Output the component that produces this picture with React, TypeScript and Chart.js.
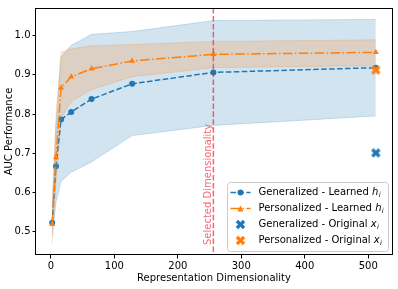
import { useEffect, useRef } from 'react';
import { Chart, registerables } from 'chart.js';

Chart.register(...registerables);

// ---- data ----
const dims = [2, 8, 16, 32, 64, 128, 256, 512];
const genMean = [0.523, 0.667, 0.786, 0.805, 0.838, 0.877, 0.906, 0.918];
const genUpper = [0.56, 0.77, 0.945, 0.975, 1.003, 1.01, 1.038, 1.041];
const genLower = [0.49, 0.575, 0.628, 0.652, 0.678, 0.745, 0.771, 0.795];
const perMean = [0.52, 0.69, 0.867, 0.895, 0.915, 0.935, 0.952, 0.957];
const perUpper = [0.57, 0.8, 0.957, 0.966, 0.974, 0.977, 0.985, 0.989];
const perLower = [0.47, 0.62, 0.79, 0.832, 0.862, 0.895, 0.918, 0.923];
const originalDim = [512];
const genOriginal = [0.701];
const perOriginal = [0.912];
const selectedDim = 256;
const xTicks = [0, 100, 200, 300, 400, 500];
const yTicks = [0.5, 0.6, 0.7, 0.8, 0.9, 1.0];
const xRange = [-23.5, 537.5];
const yRange = [0.441, 1.07];

const BLUE = '#1f77b4';
const ORANGE = '#ff7f0e';
const RED = 'rgba(238,40,55,0.7)';
const FONT = "'DejaVu Sans', sans-serif";
const BLUE_DASH = [5.55, 2.4];
const ORANGE_DASH = [9.6, 2.4, 1.5, 2.4];

function makeX(color: string, size: number): HTMLCanvasElement {
  const c = document.createElement('canvas');
  const dim = Math.ceil(size * 1.1) + 2;
  c.width = dim;
  c.height = dim;
  const ctx = c.getContext('2d')!;
  const pts = [
    [-1, -3], [1, -3], [1, -1], [3, -1], [3, 1], [1, 1],
    [1, 3], [-1, 3], [-1, 1], [-3, 1], [-3, -1], [-1, -1],
  ];
  const s = size / 6;
  const a = Math.PI / 4;
  ctx.translate(dim / 2, dim / 2);
  ctx.beginPath();
  pts.forEach(([px, py], i) => {
    const x = (px * Math.cos(a) - py * Math.sin(a)) * s;
    const y = (px * Math.sin(a) + py * Math.cos(a)) * s;
    if (i === 0) ctx.moveTo(x, y);
    else ctx.lineTo(x, y);
  });
  ctx.closePath();
  ctx.fillStyle = color;
  ctx.fill();
  return c;
}

const toPts = (xs: number[], ys: number[]) => xs.map((x, i) => ({ x, y: ys[i] }));

export default function App() {
  const ref = useRef<HTMLCanvasElement | null>(null);

  useEffect(() => {
    document.body.style.margin = '0';
    const canvas = ref.current!;
    const xBlue = makeX(BLUE, 10);
    const xOrange = makeX(ORANGE, 10);

    const framePlugin = {
      id: 'frame',
      afterDatasetsDraw(chart: any) {
        const { ctx, chartArea: a, scales } = chart;
        const px = scales.x.getPixelForValue(selectedDim);
        ctx.save();
        ctx.strokeStyle = RED;
        ctx.lineWidth = 1.5;
        ctx.setLineDash(BLUE_DASH);
        ctx.beginPath();
        ctx.moveTo(px, a.top);
        ctx.lineTo(px, a.bottom);
        ctx.stroke();
        ctx.setLineDash([]);
        ctx.translate(px - 5, a.bottom - 10);
        ctx.rotate(-Math.PI / 2);
        ctx.fillStyle = RED;
        ctx.font = `10px ${FONT}`;
        ctx.textAlign = 'left';
        ctx.textBaseline = 'middle';
        ctx.fillText('Selected Dimensionality', 0, 0);
        ctx.restore();
      },
      afterDraw(chart: any) {
        const { ctx, chartArea: a } = chart;
        ctx.save();
        ctx.strokeStyle = '#000';
        ctx.lineWidth = 1;
        ctx.strokeRect(Math.round(a.left) - 0.5, Math.round(a.top) + 0.5,
          Math.round(a.right - a.left) + 1, Math.round(a.bottom - a.top) - 1);

        const w = 161, h = 69;
        const lx = Math.round(a.right) - 4 - w + 0.5;
        const ly = Math.round(a.bottom) - 4 - h + 0.5;
        ctx.beginPath();
        ctx.roundRect(lx, ly, w, h, 3);
        ctx.fillStyle = 'rgba(255,255,255,0.8)';
        ctx.fill();
        ctx.strokeStyle = '#cccccc';
        ctx.lineWidth = 1;
        ctx.stroke();

        const rows = [
          { color: BLUE, dash: BLUE_DASH, marker: 'circle', label: 'Generalized - Learned ', v: 'h' },
          { color: ORANGE, dash: ORANGE_DASH, marker: 'triangle', label: 'Personalized - Learned ', v: 'h' },
          { color: BLUE, dash: null, marker: 'x', label: 'Generalized - Original ', v: 'x' },
          { color: ORANGE, dash: null, marker: 'x', label: 'Personalized - Original ', v: 'x' },
        ];
        rows.forEach((r, i) => {
          const cy = ly + 10 + 16 * i;
          const hx0 = lx + 3, hx1 = lx + 23, mx = lx + 13;
          if (r.dash) {
            ctx.strokeStyle = r.color;
            ctx.lineWidth = 1.5;
            ctx.setLineDash(r.dash);
            ctx.beginPath();
            ctx.moveTo(hx0, cy);
            ctx.lineTo(hx1, cy);
            ctx.stroke();
            ctx.setLineDash([]);
          }
          ctx.fillStyle = r.color;
          if (r.marker === 'circle') {
            ctx.beginPath();
            ctx.arc(mx, cy, 3, 0, Math.PI * 2);
            ctx.fill();
          } else if (r.marker === 'triangle') {
            ctx.beginPath();
            ctx.moveTo(mx, cy - 3);
            ctx.lineTo(mx + 3, cy + 3);
            ctx.lineTo(mx - 3, cy + 3);
            ctx.closePath();
            ctx.fill();
          } else {
            const img = r.color === BLUE ? xBlue : xOrange;
            ctx.drawImage(img, mx - img.width / 2, cy - img.height / 2);
          }
          ctx.fillStyle = '#000';
          ctx.textAlign = 'left';
          ctx.textBaseline = 'middle';
          ctx.font = `10px ${FONT}`;
          const tx = lx + 31;
          ctx.fillText(r.label, tx, cy);
          let x2 = tx + ctx.measureText(r.label).width;
          ctx.font = `italic 10px ${FONT}`;
          ctx.fillText(r.v, x2, cy);
          x2 += ctx.measureText(r.v).width;
          ctx.font = `italic 7px ${FONT}`;
          ctx.fillText('i', x2 + 0.3, cy + 2.5);
        });
        ctx.restore();
      },
    };

    const bandLine = (c: string) => ({
      pointRadius: 0,
      borderWidth: 1,
      borderColor: c,
      backgroundColor: c,
      tension: 0,
    });

    const chart = new Chart(canvas, {
      type: 'line',
      data: {
        datasets: [
          { label: 'gu', data: toPts(dims, genUpper), ...bandLine('rgba(31,119,180,0.2)'), fill: false, order: 10 } as any,
          { label: 'gl', data: toPts(dims, genLower), ...bandLine('rgba(31,119,180,0.2)'), fill: 0, order: 10 } as any,
          { label: 'pu', data: toPts(dims, perUpper), ...bandLine('rgba(255,127,14,0.2)'), fill: false, order: 8 } as any,
          { label: 'pl', data: toPts(dims, perLower), ...bandLine('rgba(255,127,14,0.2)'), fill: 2, order: 8 } as any,
          {
            label: 'Generalized - Learned', data: toPts(dims, genMean), borderColor: BLUE, backgroundColor: BLUE,
            borderWidth: 1.5, borderDash: BLUE_DASH, pointStyle: 'circle', pointRadius: 3, pointBorderWidth: 0,
            fill: false, tension: 0, order: 9,
          } as any,
          {
            label: 'Personalized - Learned', data: toPts(dims, perMean), borderColor: ORANGE, backgroundColor: ORANGE,
            borderWidth: 1.5, borderDash: ORANGE_DASH, pointStyle: 'triangle', pointRadius: 3.5, pointBorderWidth: 0,
            fill: false, tension: 0, order: 7,
          } as any,
          {
            label: 'Generalized - Original', data: toPts(originalDim, genOriginal), showLine: false,
            pointStyle: xBlue, pointRadius: 5, order: 2,
          } as any,
          {
            label: 'Personalized - Original', data: toPts(originalDim, perOriginal), showLine: false,
            pointStyle: xOrange, pointRadius: 5, order: 1,
          } as any,
        ],
      },
      options: {
        responsive: false,
        animation: false,
        devicePixelRatio: 1,
        layout: { padding: { top: 5, right: 6, left: 0, bottom: 0 } },
        plugins: { legend: { display: false }, tooltip: { enabled: false } },
        scales: {
          x: {
            type: 'linear',
            min: xRange[0],
            max: xRange[1],
            afterBuildTicks: (s: any) => { s.ticks = xTicks.map((v) => ({ value: v })); },
            afterFit: (s: any) => { s.height = 34; },
            ticks: { font: { family: FONT, size: 10 }, color: '#000', padding: 2, maxRotation: 0, autoSkip: false },
            grid: { display: true, drawOnChartArea: false, drawTicks: true, tickLength: 3.5, color: '#000' },
            border: { display: false },
            title: { display: true, text: 'Representation Dimensionality', font: { family: FONT, size: 10 }, color: '#000', padding: { top: 0, bottom: 5 } },
          },
          y: {
            type: 'linear',
            min: yRange[0],
            max: yRange[1],
            afterBuildTicks: (s: any) => { s.ticks = yTicks.map((v) => ({ value: v })); },
            afterFit: (s: any) => { s.width = 36; },
            ticks: { font: { family: FONT, size: 10 }, color: '#000', padding: 2, autoSkip: false, callback: (v: any) => Number(v).toFixed(1) },
            grid: { display: true, drawOnChartArea: false, drawTicks: true, tickLength: 3.5, color: '#000' },
            border: { display: false },
            title: { display: true, text: 'AUC Performance', font: { family: FONT, size: 10 }, color: '#000', padding: { top: 3, bottom: 0 } },
          },
        },
      },
      plugins: [framePlugin],
    } as any);

    return () => chart.destroy();
  }, []);

  return <canvas ref={ref} width={398} height={289} style={{ display: 'block', width: 398, height: 289 }} />;
}
